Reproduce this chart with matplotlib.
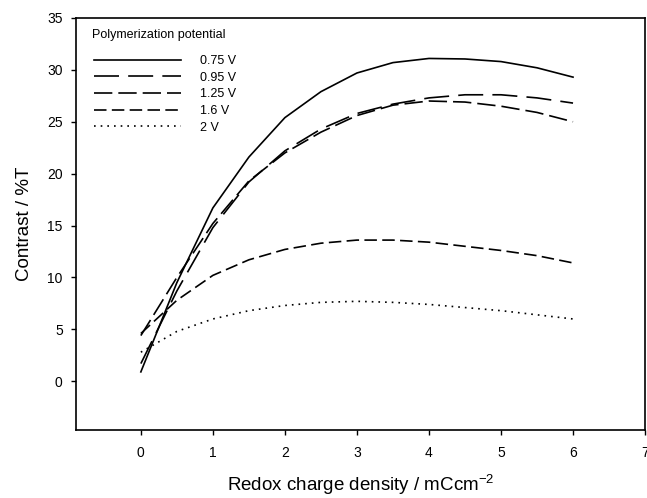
import matplotlib
matplotlib.use("Agg")
import matplotlib.pyplot as plt

plt.rcParams['font.family'] = ['Liberation Sans', 'DejaVu Sans']
plt.rcParams['mathtext.fontset'] = 'custom'
plt.rcParams['mathtext.rm'] = 'Liberation Sans'
plt.rcParams['mathtext.it'] = 'Liberation Sans:italic'
plt.rcParams['mathtext.bf'] = 'Liberation Sans:bold'

charge = [0, 0.5, 1, 1.5, 2, 2.5, 3, 3.5, 4, 4.5, 5, 5.5, 6]
c075 = [0.9, 9.5, 16.7, 21.6, 25.4, 27.9, 29.7, 30.7, 31.1, 31.05, 30.8, 30.2, 29.3]
c095 = [1.7, 8.7, 14.8, 19.2, 22.2, 24.3, 25.8, 26.7, 27.3, 27.6, 27.6, 27.3, 26.8]
c125 = [4.4, 10.0, 15.2, 19.3, 22.0, 24.0, 25.6, 26.6, 27.0, 26.9, 26.5, 25.9, 25.0]
c160 = [4.6, 7.8, 10.2, 11.7, 12.7, 13.3, 13.6, 13.6, 13.4, 13.0, 12.6, 12.1, 11.4]
c200 = [2.8, 4.8, 6.0, 6.8, 7.3, 7.6, 7.7, 7.6, 7.4, 7.1, 6.8, 6.4, 6.0]
labels = ['0.75 V', '0.95 V', '1.25 V', '1.6 V', '2 V']
legend_title = 'Polymerization potential'

styles = [
    dict(linestyle='-'),
    dict(dashes=(15, 5.5)),
    dict(dashes=(11, 3.6)),
    dict(dashes=(7.5, 3.2)),
    dict(dashes=(1.0, 3.0)),
]

fig = plt.figure(figsize=(6.47, 4.98), dpi=100)
ax = fig.add_axes([0.1175, 0.1365, 0.8795, 0.8274])

for ys, lab, st in zip([c075, c095, c125, c160, c200], labels, styles):
    ax.plot(charge, ys, color='black', lw=1.2, label=lab, **st)

ax.set_xlim(-0.9, 7)
ax.set_ylim(-4.7, 35)
ax.set_xticks(range(0, 8))
ax.set_yticks(range(0, 36, 5))
ax.tick_params(axis='both', direction='out', length=3.6, width=1.0, labelsize=10)
ax.tick_params(axis='x', pad=8)
ax.tick_params(axis='y', pad=6)
for s in ax.spines.values():
    s.set_linewidth(1.2)

ax.set_xlabel('Redox charge density / mCcm$^{-2}$', fontsize=13.5)
ax.xaxis.set_label_coords(0.5, -0.105)
ax.set_ylabel('Contrast / %T', fontsize=13.5)
ax.yaxis.set_label_coords(-0.075, 0.5)

fig.text(92 / 647, 1 - 35 / 498, legend_title, fontsize=9, ha='left', va='center')
leg = ax.legend(frameon=False, loc='upper left',
                bbox_to_anchor=(0.022, 0.922), fontsize=9,
                handlelength=7.0, handletextpad=1.55, labelspacing=0.37,
                borderaxespad=0.0)

fig.savefig('out.png', dpi=100)
